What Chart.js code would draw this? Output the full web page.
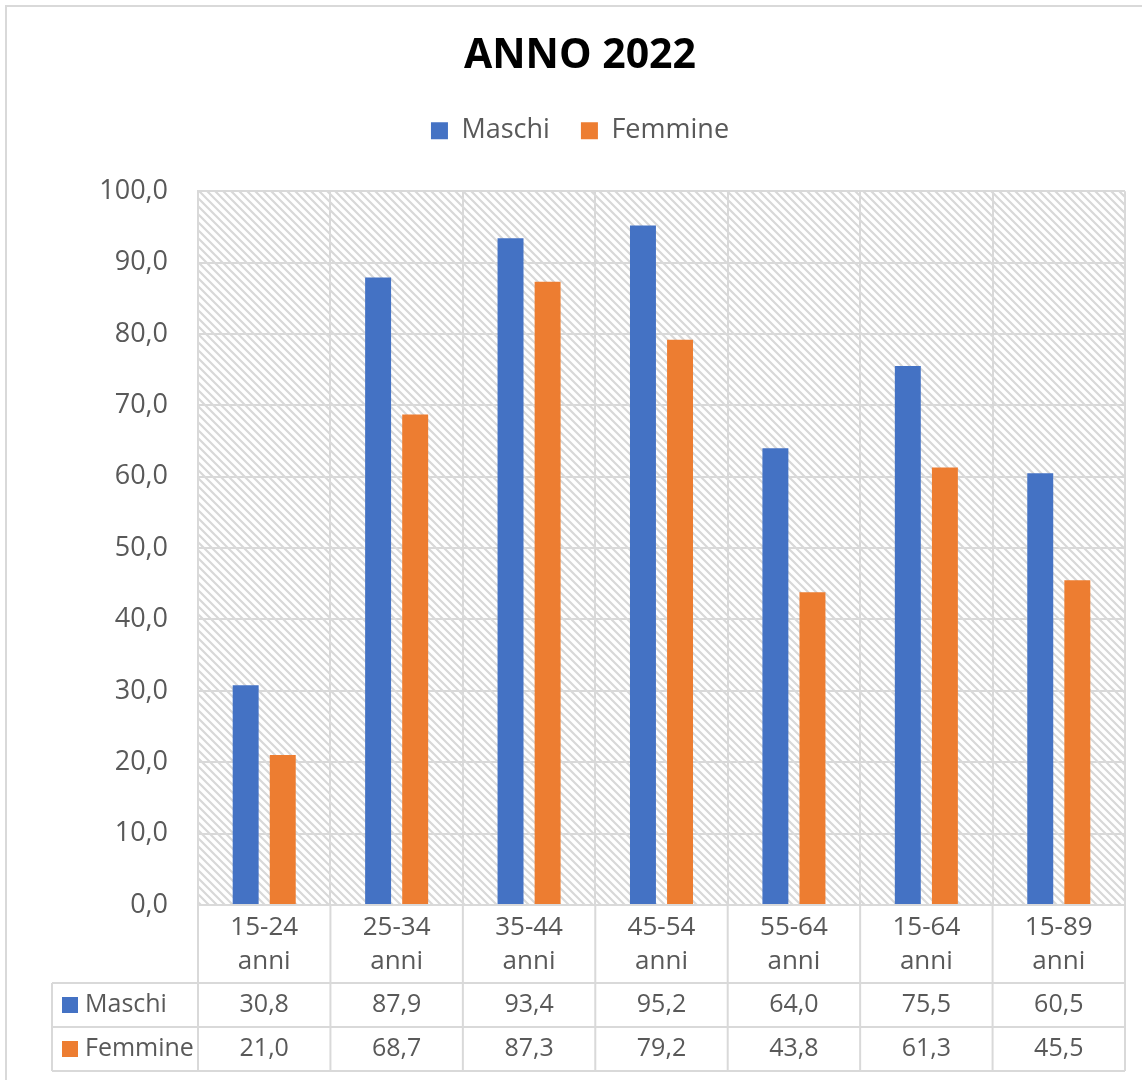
<!DOCTYPE html>
<html>
<head>
<meta charset="utf-8">
<script src="https://cdn.jsdelivr.net/npm/chart.js@4.4.1/dist/chart.umd.min.js"></script>
<style>
  html, body { margin: 0; padding: 0; background: #fff; }
  #wrap { position: relative; width: 1142px; height: 1080px; }
  #frame { position: absolute; left: 5px; top: 5px; right: -10px; bottom: -10px; border: 2px solid #d9d9d9; }
  canvas { position: absolute; left: 0; top: 0; }
</style>
</head>
<body>
<div id="wrap">
  <div id="frame"></div>
  <canvas id="chart" width="1142" height="1080"></canvas>
</div>
<script>
// ---------------- Data ----------------
const categories = ["15-24 anni", "25-34 anni", "35-44 anni", "45-54 anni", "55-64 anni", "15-64 anni", "15-89 anni"];
const maschi = [30.8, 87.9, 93.4, 95.2, 64.0, 75.5, 60.5];
const femmine = [21.0, 68.7, 87.3, 79.2, 43.8, 61.3, 45.5];
const seriesNames = ["Maschi", "Femmine"];
const seriesColors = ["#4472C4", "#ED7D31"];

const GRID = "#d9d9d9";
const TEXT = "#595959";
const FONT = "'Open Sans', 'Liberation Sans', sans-serif";
const PAD_LEFT = 35;

const fmt = v => v.toFixed(1).replace(".", ",");

// ---------------- Hatched plot background ----------------
function makeHatch() {
  const p = document.createElement("canvas");
  p.width = 8; p.height = 8;
  const c = p.getContext("2d");
  c.fillStyle = "#fff";
  c.fillRect(0, 0, 8, 8);
  c.strokeStyle = "#d8d8d8";
  c.lineWidth = 2.2;
  c.beginPath();
  [-8, 0, 8].forEach(k => {
    c.moveTo(k - 2, -2);
    c.lineTo(k + 10, 10);
  });
  c.stroke();
  return p;
}

const hatchBg = {
  id: "hatchBg",
  beforeDraw(chart) {
    const { ctx, chartArea: a } = chart;
    ctx.save();
    ctx.fillStyle = ctx.createPattern(makeHatch(), "repeat");
    ctx.fillRect(a.left, a.top, a.right - a.left, a.bottom - a.top);
    ctx.restore();
  }
};

// ---------------- Legend spacing ----------------
const legendGap = {
  id: "legendGap",
  beforeInit(chart) {
    const fit = chart.legend.fit;
    chart.legend.fit = function () {
      fit.bind(chart.legend)();
      this.height += 37;
    };
  }
};

// ---------------- Data table under the axis ----------------
const dataTable = {
  id: "dataTable",
  afterDraw(chart) {
    const { ctx, chartArea: a, scales: { x } } = chart;
    const n = categories.length;
    const colW = (a.right - a.left) / n;
    const rowTop = x.bottom;
    const rowH = 44;
    const tableLeft = 52;
    const bottom = rowTop + rowH * 2;

    ctx.save();
    ctx.strokeStyle = GRID;
    ctx.lineWidth = 2;
    ctx.beginPath();
    for (let i = 0; i <= n; i++) {
      const px = a.left + i * colW;
      ctx.moveTo(px, a.bottom);
      ctx.lineTo(px, bottom);
    }
    ctx.moveTo(tableLeft, rowTop);
    ctx.lineTo(tableLeft, bottom);
    for (let r = 0; r <= 2; r++) {
      ctx.moveTo(tableLeft, rowTop + r * rowH);
      ctx.lineTo(a.right, rowTop + r * rowH);
    }
    ctx.stroke();

    ctx.font = "25px " + FONT;
    ctx.fillStyle = TEXT;
    ctx.textBaseline = "middle";
    [maschi, femmine].forEach((vals, r) => {
      const cy = rowTop + r * rowH + rowH / 2;
      ctx.fillStyle = seriesColors[r];
      ctx.fillRect(62, cy - 8, 16, 16);
      ctx.fillStyle = TEXT;
      ctx.textAlign = "left";
      ctx.fillText(seriesNames[r], 85, cy);
      ctx.textAlign = "center";
      vals.forEach((v, i) => {
        ctx.fillText(fmt(v), x.getPixelForValue(i), cy);
      });
    });
    ctx.restore();
  }
};

// ---------------- Chart ----------------
const ctx = document.getElementById("chart").getContext("2d");
new Chart(ctx, {
  type: "bar",
  data: {
    labels: categories,
    datasets: [
      { label: seriesNames[0], data: maschi, backgroundColor: seriesColors[0] },
      { label: seriesNames[1], data: femmine, backgroundColor: seriesColors[1] }
    ]
  },
  options: {
    responsive: false,
    animation: false,
    barPercentage: 0.7,
    categoryPercentage: 0.56,
    layout: { padding: { top: 0, left: PAD_LEFT, right: 17, bottom: 97 } },
    plugins: {
      tooltip: { enabled: false },
      title: {
        display: true,
        text: "ANNO 2022",
        color: "#000",
        font: { family: FONT, size: 41, weight: "bold", lineHeight: 1.2 },
        padding: { top: 32, bottom: 5 }
      },
      legend: {
        position: "top",
        labels: {
          color: TEXT,
          font: { family: FONT, size: 27 },
          boxWidth: 17,
          boxHeight: 17,
          padding: 31
        }
      }
    },
    scales: {
      x: {
        grid: { color: GRID, lineWidth: 2, drawTicks: false },
        border: { color: GRID, width: 2 },
        ticks: {
          color: TEXT,
          font: { family: FONT, size: 26, lineHeight: 1.32 },
          padding: 5,
          maxRotation: 0,
          autoSkip: false,
          callback: (v, i) => categories[i].split(" ")
        },
        afterFit(axis) { axis.height = 78; }
      },
      y: {
        min: 0,
        max: 100,
        grid: { color: GRID, lineWidth: 2, drawTicks: false },
        border: { color: GRID, width: 2 },
        ticks: {
          stepSize: 10,
          color: TEXT,
          font: { family: FONT, size: 27 },
          padding: 30,
          callback: v => fmt(v)
        },
        afterFit(axis) { axis.width = 198 - PAD_LEFT; }
      }
    }
  },
  plugins: [hatchBg, legendGap, dataTable]
});
</script>
</body>
</html>
